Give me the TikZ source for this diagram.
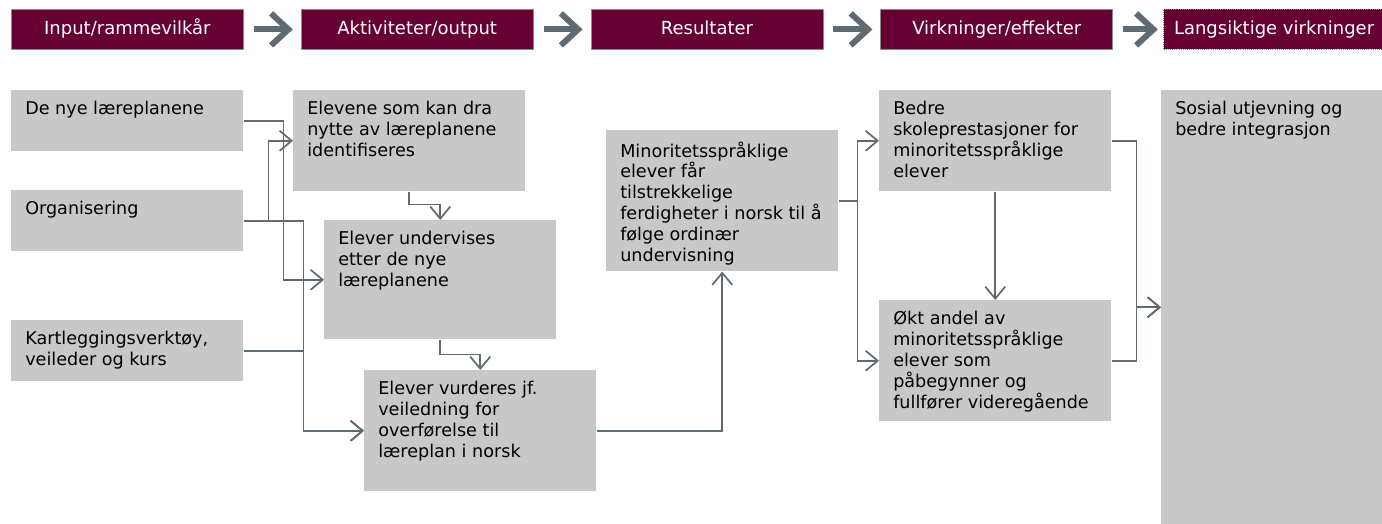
\documentclass[tikz,border=0pt]{standalone}
\usepackage{fontspec}
\setmainfont{DejaVu Sans}
\usetikzlibrary{arrows.meta, positioning}
\definecolor{phasered}{HTML}{660033}
\definecolor{phaseedge}{HTML}{8C8C8C}
\definecolor{cellgray}{HTML}{C8C8C8}
\definecolor{flowgray}{HTML}{5F6B73}
\newcommand{\cellbody}[2]{\begin{minipage}[t][#1][t]{153pt}\raggedright #2\end{minipage}}
\tikzset{
  phasehead/.style={
    draw=phaseedge, fill=phasered, text=white, line width=0.6pt,
    minimum width=174pt, minimum height=30pt, inner sep=0pt,
    text height=10pt, text depth=3pt,
    font=\fontsize{13.5}{16}\selectfont
  },
  phasearrow/.style={
    -{Straight Barb[length=13pt, width=24pt, sharp]}, line width=4.5pt, color=flowgray
  },
  cellbox/.style={
    fill=cellgray, anchor=north west, inner xsep=10.5pt, inner ysep=8.5pt,
    minimum width=174pt, font=\fontsize{13.2}{15.6}\selectfont
  },
  flow/.style={
    -{Straight Barb[length=9pt, width=15pt]}, line width=1.3pt, color=flowgray
  },
}
\begin{document}
\begin{tikzpicture}[x=0.75pt, y=-0.75pt]
  \useasboundingbox (0,0) rectangle (1382,524);

  % ── Phase headers ──
  \node[phasehead, anchor=north west] (hin) at (11,9) {Input/rammevilkår};
  \node[phasehead, right=42.75pt of hin]   (hakt)  {Aktiviteter/output};
  \node[phasehead, right=42.75pt of hakt]  (hres)  {Resultater};
  \node[phasehead, right=42.75pt of hres]  (hvirk) {Virkninger/effekter};
  \node[phasehead, densely dotted, minimum width=165.75pt, right=37.5pt of hvirk]
    (hlang) {Langsiktige virkninger};

  \draw[phasearrow] ([xshift=7.5pt]hin.east)   -- ([xshift=-6pt]hakt.west);
  \draw[phasearrow] ([xshift=7.5pt]hakt.east)  -- ([xshift=-6pt]hres.west);
  \draw[phasearrow] ([xshift=7.5pt]hres.east)  -- ([xshift=-6pt]hvirk.west);
  \draw[phasearrow] ([xshift=7.5pt]hvirk.east) -- ([xshift=-4pt]hlang.west);

  % ── Input ──
  \node[cellbox] (plan) at (11,90)  {\cellbody{28.75pt}{De nye læreplanene}};
  \node[cellbox] (org)  at (11,190) {\cellbody{28.75pt}{Organisering}};
  \node[cellbox] (kart) at (11,320) {\cellbody{28.75pt}{Kartleggingsverktøy,\\ veileder og kurs}};

  % ── Activities ──
  \node[cellbox] (ident)  at (293,90)  {\cellbody{58.75pt}{Elevene som kan dra\\ nytte av læreplanene\\ identifiseres}};
  \node[cellbox] (teach)  at (324,220) {\cellbody{72.25pt}{Elever undervises\\ etter de nye\\ læreplanene}};
  \node[cellbox] (assess) at (364,370) {\cellbody{73.75pt}{Elever vurderes jf.\\ veiledning for\\ overførelse til\\ læreplan i norsk}};

  % ── Results and effects ──
  \node[cellbox] (skills) at (606,130) {\cellbody{88.75pt}{Minoritetsspråklige\\ elever får\\ tilstrekkelige\\ ferdigheter i norsk til å\\ følge ordinær\\ undervisning}};
  \node[cellbox] (perf)   at (879,90)  {\cellbody{58.75pt}{Bedre\\ skoleprestasjoner for\\ minoritetsspråklige\\ elever}};
  \node[cellbox] (share)  at (879,300) {\cellbody{73.75pt}{Økt andel av\\ minoritetsspråklige\\ elever som\\ påbegynner og\\ fullfører videregående}};
  \node[cellbox] (social) at (1161,90) {\cellbody{308.5pt}{Sosial utjevning og\\ bedre integrasjon}};

  % ── Arrows ──
  \draw[flow] (plan.east)   -- ++(40,0) |- (teach.west);
  \draw[flow] (org.east)    -- ++(25,0) |- (ident.west);
  \draw[flow] (org.east)    -- ++(60,0) |- (assess.west);
  \draw[flow] (kart.east)   -- ++(60,0) |- (assess.west);
  \draw[flow] (ident.south) -- ++(0,13) -| (teach.north);
  \draw[flow] (teach.south) -- ++(0,15) -| (assess.north);
  \draw[flow] (assess.east) -| (skills.south);
  \draw[flow] (skills.east) -- ++(19,0) |- (perf.west);
  \draw[flow] (skills.east) -- ++(19,0) |- (share.west);
  \draw[flow] (perf.south)  -- (share.north);
  \draw[flow] (perf.east)   -- ++(25,0) |- (social.west);
  \draw[flow] (share.east)  -- ++(25,0) |- (social.west);
\end{tikzpicture}
\end{document}
